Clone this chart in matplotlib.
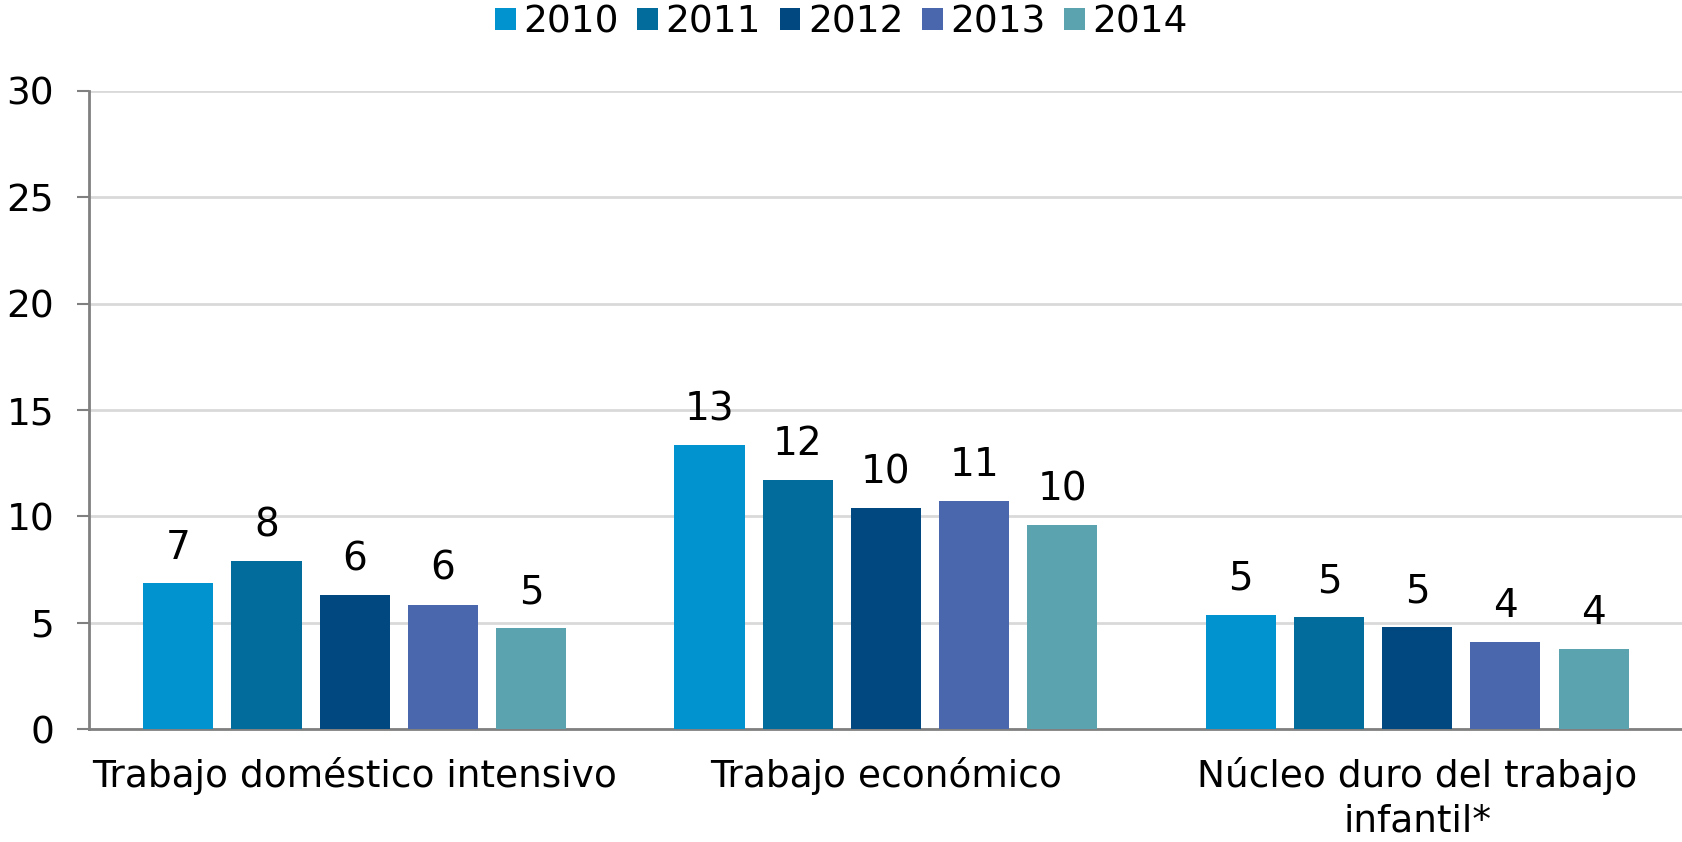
import matplotlib
matplotlib.use("Agg")
import matplotlib.pyplot as plt
import numpy as np
from matplotlib.patches import Patch

categories = ["Trabajo doméstico intensivo", "Trabajo económico", "Núcleo duro del trabajo\ninfantil*"]
years = ["2010", "2011", "2012", "2013", "2014"]
values = {
    "2010": [6.85, 13.35, 5.39],
    "2011": [7.91, 11.71, 5.28],
    "2012": [6.30, 10.41, 4.78],
    "2013": [5.86, 10.72, 4.09],
    "2014": [4.75, 9.59, 3.79],
}
colors = ["#0093D0", "#026D9C", "#014780", "#4A67AD", "#5BA3AF"]
yticks = [0, 5, 10, 15, 20, 25, 30]

plt.rcParams['font.family'] = ['DejaVu Sans']
FS = 27

fig = plt.figure(figsize=(16.83, 8.42), dpi=100)
ax = fig.add_axes([0.0529, 0.134, 0.947, 0.758])

x = np.arange(len(categories))
pitch = 0.166
width = 0.132
for i, (yr, c) in enumerate(zip(years, colors)):
    pos = x + (i - 2) * pitch
    bars = ax.bar(pos, values[yr], width=width, color=c, zorder=3)
    labels = [f"{v:.0f}" for v in values[yr]]
    ax.bar_label(bars, labels=labels, padding=12, fontsize=28, color="black")

ax.set_xlim(-0.5, 2.5)
ax.set_ylim(0, 30)
ax.set_yticks(yticks)
ax.set_yticklabels([str(t) for t in yticks], fontsize=FS)
ax.yaxis.grid(True, color="#D9D9D9", linewidth=2, zorder=0)
ax.set_xticks(x)
ax.set_xticklabels(categories, fontsize=FS, linespacing=1.3, va="top")
ax.tick_params(axis="x", length=0, pad=20)
ax.tick_params(axis="y", length=9, width=1.5, color="#808080", pad=16)
for s in ["top", "right"]:
    ax.spines[s].set_visible(False)
for s in ["left", "bottom"]:
    ax.spines[s].set_color("#808080")
    ax.spines[s].set_linewidth(2)

handles = [Patch(facecolor=c, label=y) for y, c in zip(years, colors)]
fig.legend(handles=handles, loc="upper center", bbox_to_anchor=(0.5, 1.035), ncol=5,
           frameon=False, fontsize=FS, handlelength=0.55, handleheight=0.55,
           handletextpad=0.2, columnspacing=0.5)

fig.savefig("out.png", dpi=100)
